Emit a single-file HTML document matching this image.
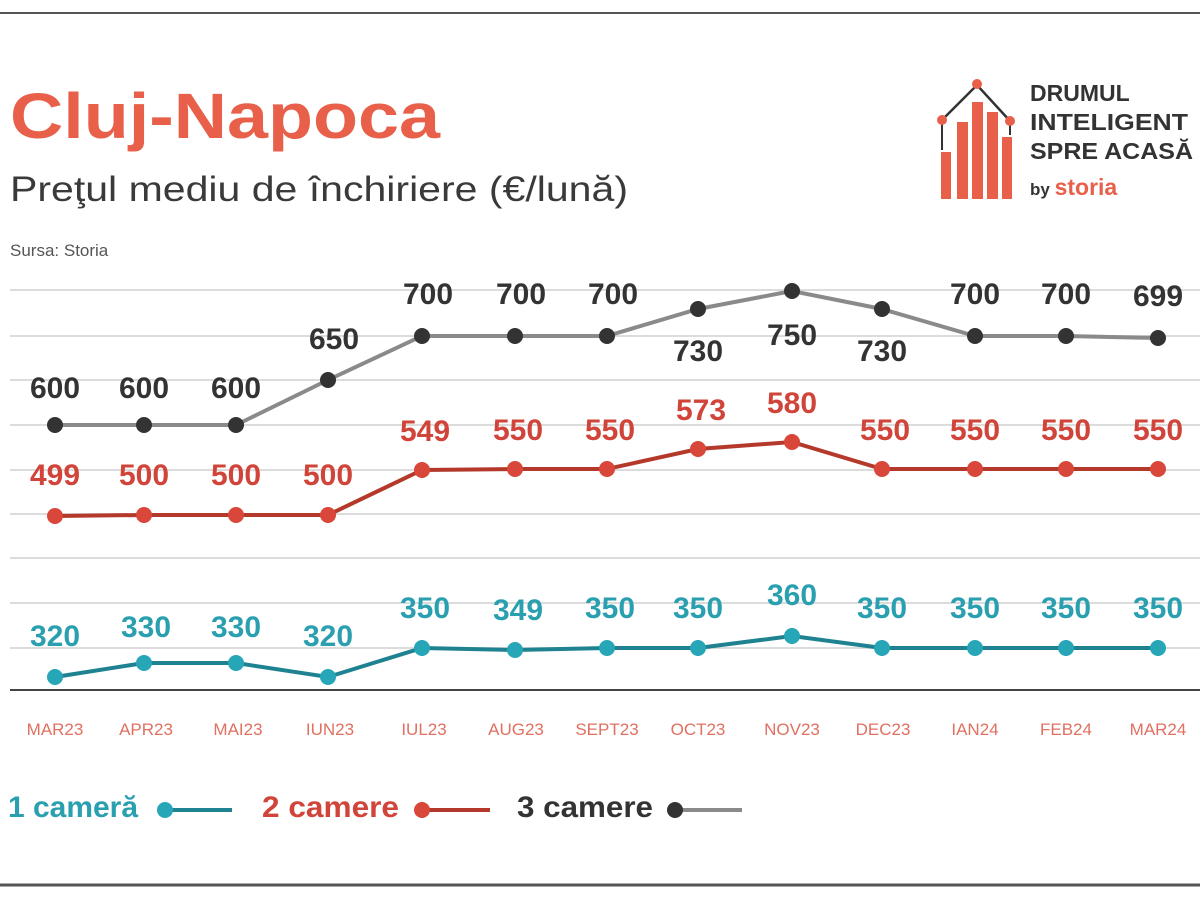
<!DOCTYPE html>
<html><head><meta charset="utf-8"><style>
html,body{margin:0;padding:0;background:#fff;width:1200px;height:900px;overflow:hidden}
svg{display:block}
</style></head><body>
<svg width="1200" height="900" xmlns="http://www.w3.org/2000/svg" font-family="Liberation Sans, DejaVu Sans, sans-serif">
<line x1="0" y1="13" x2="1200" y2="13" stroke="#555" stroke-width="2"/>
<line x1="0" y1="885" x2="1200" y2="885" stroke="#555" stroke-width="3"/>
<text x="10" y="138" font-size="64" font-weight="bold" fill="#e8604a" textLength="430" lengthAdjust="spacingAndGlyphs">Cluj-Napoca</text>
<text x="10" y="201" font-size="35" fill="#3a3a3a" textLength="618" lengthAdjust="spacingAndGlyphs">Preţul mediu de închiriere (€/lună)</text>
<text x="10" y="256" font-size="17" fill="#555">Sursa: Storia</text>
<!-- logo -->
<g fill="#e8604a">
<rect x="941" y="152" width="10" height="47"/><rect x="957" y="122" width="11" height="77"/><rect x="972" y="102" width="11" height="97"/><rect x="987" y="112" width="11" height="87"/><rect x="1002" y="137" width="10" height="62"/>
</g>
<polyline points="942,120 977,85 1010,121" fill="none" stroke="#333" stroke-width="2.5"/>
<line x1="942" y1="120" x2="942" y2="150" stroke="#333" stroke-width="2"/>
<line x1="1010" y1="121" x2="1010" y2="135" stroke="#333" stroke-width="2"/>
<circle cx="942" cy="120" r="5" fill="#e8604a"/><circle cx="977" cy="84" r="5" fill="#e8604a"/><circle cx="1010" cy="121" r="5" fill="#e8604a"/>
<g font-size="23" font-weight="bold" fill="#333">
<text x="1030" y="101">DRUMUL</text>
<text x="1030" y="130" textLength="158" lengthAdjust="spacingAndGlyphs">INTELIGENT</text>
<text x="1030" y="159" textLength="163" lengthAdjust="spacingAndGlyphs">SPRE ACASĂ</text>
</g>
<text x="1030" y="195" font-size="17" font-weight="bold" fill="#333">by <tspan fill="#e8604a" font-size="23">storia</tspan></text>
<!-- grid -->
<g stroke="#dcdcdc" stroke-width="2">
<line x1="10" y1="290" x2="1200" y2="290"/><line x1="10" y1="336" x2="1200" y2="336"/><line x1="10" y1="380" x2="1200" y2="380"/><line x1="10" y1="425" x2="1200" y2="425"/><line x1="10" y1="470" x2="1200" y2="470"/><line x1="10" y1="514" x2="1200" y2="514"/><line x1="10" y1="558" x2="1200" y2="558"/><line x1="10" y1="603" x2="1200" y2="603"/><line x1="10" y1="648" x2="1200" y2="648"/>
</g>
<line x1="10" y1="690" x2="1200" y2="690" stroke="#444" stroke-width="2"/>
<!-- gray -->
<polyline fill="none" stroke="#8a8a8a" stroke-width="4" points="55,425 144,425 236,425 328,380 422,336 515,336 607,336 698,309 792,291 882,309 975,336 1066,336 1158,338"/>
<g fill="#333"><circle cx="55" cy="425" r="8"/><circle cx="144" cy="425" r="8"/><circle cx="236" cy="425" r="8"/><circle cx="328" cy="380" r="8"/><circle cx="422" cy="336" r="8"/><circle cx="515" cy="336" r="8"/><circle cx="607" cy="336" r="8"/><circle cx="698" cy="309" r="8"/><circle cx="792" cy="291" r="8"/><circle cx="882" cy="309" r="8"/><circle cx="975" cy="336" r="8"/><circle cx="1066" cy="336" r="8"/><circle cx="1158" cy="338" r="8"/></g>
<g font-size="30" font-weight="bold" fill="#333" text-anchor="middle">
<text x="55" y="398">600</text><text x="144" y="398">600</text><text x="236" y="398">600</text><text x="334" y="349">650</text><text x="428" y="304">700</text><text x="521" y="304">700</text><text x="613" y="304">700</text><text x="698" y="361">730</text><text x="792" y="345">750</text><text x="882" y="361">730</text><text x="975" y="304">700</text><text x="1066" y="304">700</text><text x="1158" y="306">699</text>
</g>
<!-- red -->
<polyline fill="none" stroke="#b5392b" stroke-width="4" points="55,516 144,515 236,515 328,515 422,470 515,469 607,469 698,449 792,442 882,469 975,469 1066,469 1158,469"/>
<g fill="#d8473a"><circle cx="55" cy="516" r="8"/><circle cx="144" cy="515" r="8"/><circle cx="236" cy="515" r="8"/><circle cx="328" cy="515" r="8"/><circle cx="422" cy="470" r="8"/><circle cx="515" cy="469" r="8"/><circle cx="607" cy="469" r="8"/><circle cx="698" cy="449" r="8"/><circle cx="792" cy="442" r="8"/><circle cx="882" cy="469" r="8"/><circle cx="975" cy="469" r="8"/><circle cx="1066" cy="469" r="8"/><circle cx="1158" cy="469" r="8"/></g>
<g font-size="30" font-weight="bold" fill="#d0443a" text-anchor="middle">
<text x="55" y="485">499</text><text x="144" y="485">500</text><text x="236" y="485">500</text><text x="328" y="485">500</text><text x="425" y="441">549</text><text x="518" y="440">550</text><text x="610" y="440">550</text><text x="701" y="420">573</text><text x="792" y="413">580</text><text x="885" y="440">550</text><text x="975" y="440">550</text><text x="1066" y="440">550</text><text x="1158" y="440">550</text>
</g>
<!-- teal -->
<polyline fill="none" stroke="#1f8291" stroke-width="4" points="55,677 144,663 236,663 328,677 422,648 515,650 607,648 698,648 792,636 882,648 975,648 1066,648 1158,648"/>
<g fill="#27a6b8"><circle cx="55" cy="677" r="8"/><circle cx="144" cy="663" r="8"/><circle cx="236" cy="663" r="8"/><circle cx="328" cy="677" r="8"/><circle cx="422" cy="648" r="8"/><circle cx="515" cy="650" r="8"/><circle cx="607" cy="648" r="8"/><circle cx="698" cy="648" r="8"/><circle cx="792" cy="636" r="8"/><circle cx="882" cy="648" r="8"/><circle cx="975" cy="648" r="8"/><circle cx="1066" cy="648" r="8"/><circle cx="1158" cy="648" r="8"/></g>
<g font-size="30" font-weight="bold" fill="#2a9fb0" text-anchor="middle">
<text x="55" y="646">320</text><text x="146" y="637">330</text><text x="236" y="637">330</text><text x="328" y="646">320</text><text x="425" y="618">350</text><text x="518" y="620">349</text><text x="610" y="618">350</text><text x="698" y="618">350</text><text x="792" y="605">360</text><text x="882" y="618">350</text><text x="975" y="618">350</text><text x="1066" y="618">350</text><text x="1158" y="618">350</text>
</g>
<!-- x labels -->
<g font-size="17" fill="#e07060" text-anchor="middle">
<text x="55" y="735">MAR23</text><text x="146" y="735">APR23</text><text x="238" y="735">MAI23</text><text x="330" y="735">IUN23</text><text x="424" y="735">IUL23</text><text x="516" y="735">AUG23</text><text x="607" y="735">SEPT23</text><text x="698" y="735">OCT23</text><text x="792" y="735">NOV23</text><text x="883" y="735">DEC23</text><text x="975" y="735">IAN24</text><text x="1066" y="735">FEB24</text><text x="1158" y="735">MAR24</text>
</g>
<!-- legend -->
<text x="8" y="817" font-size="30" font-weight="bold" fill="#2a9fb0" textLength="130" lengthAdjust="spacingAndGlyphs">1 cameră</text>
<line x1="165" y1="810" x2="232" y2="810" stroke="#1f8291" stroke-width="4"/><circle cx="165" cy="810" r="8" fill="#27a6b8"/>
<text x="262" y="817" font-size="30" font-weight="bold" fill="#d0443a" textLength="137" lengthAdjust="spacingAndGlyphs">2 camere</text>
<line x1="422" y1="810" x2="490" y2="810" stroke="#b5392b" stroke-width="4"/><circle cx="422" cy="810" r="8" fill="#d8473a"/>
<text x="517" y="817" font-size="30" font-weight="bold" fill="#333" textLength="136" lengthAdjust="spacingAndGlyphs">3 camere</text>
<line x1="675" y1="810" x2="742" y2="810" stroke="#8a8a8a" stroke-width="4"/><circle cx="675" cy="810" r="8" fill="#333"/>
</svg>
</body></html>
